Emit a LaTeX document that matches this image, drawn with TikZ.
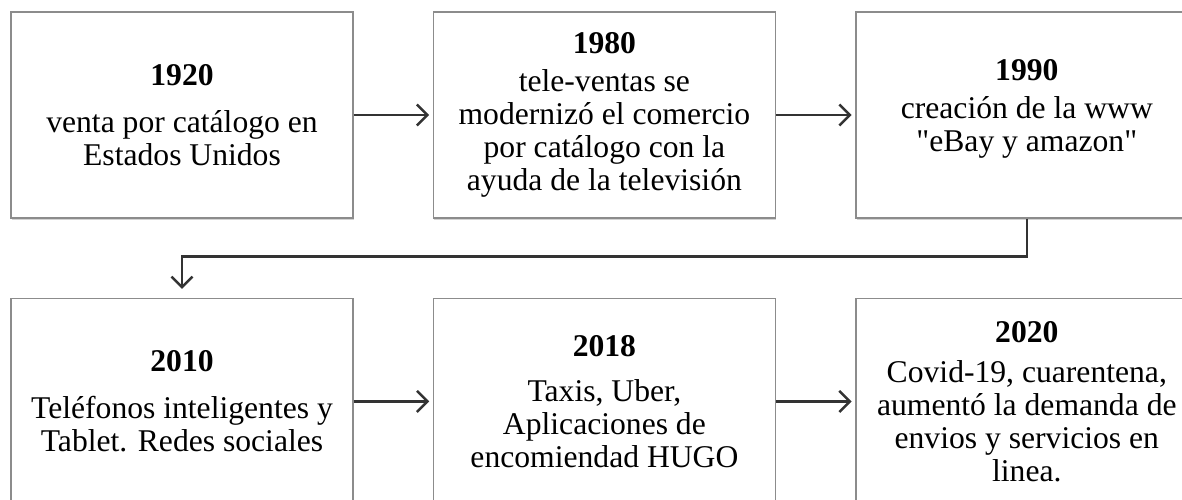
\documentclass[tikz,border=0pt]{standalone}
\usepackage{fontspec}
\setmainfont{Liberation Serif}
\usetikzlibrary{arrows.meta, positioning, shadows}
\colorlet{colorBorde}{black!45}
\colorlet{colorFlecha}{black!80}
\tikzset{hito/.style={draw=colorBorde, line width=0.8pt, fill=white, minimum width=6.84cm, minimum height=4.12cm, align=center, inner sep=2pt, font=\fontsize{18}{18.8}\selectfont, drop shadow={shadow xshift=0.4pt, shadow yshift=-1.2pt, opacity=0.35}}}

\begin{document}
\begin{tikzpicture}[>={Straight Barb[length=6pt,width=12pt]}, line width=1.4pt, node distance=1.58cm]
\clip (0,0) rectangle (23.64,-9.98);
\node[hito] (a1920) at (3.64,-2.30) {\textbf{1920}\\[8pt]venta por catálogo en\\Estados Unidos};
\node[hito, right=of a1920] (a1980) {\textbf{1980}\\[3pt]tele-ventas se\\modernizó el comercio\\por catálogo con la\\ayuda de la televisión};
\node[hito, right=of a1980] (a1990) {\textbf{1990}\\[3pt]creación de la www\\\textquotedbl eBay y amazon\textquotedbl\\[-8pt]\mbox{}};
\node[hito, below=of a1920] (a2010) {\textbf{2010}\\[8pt]Teléfonos inteligentes y\\Tablet. Redes sociales};
\node[hito, right=of a2010] (a2018) {\textbf{2018}\\[7pt]Taxis, Uber,\\Aplicaciones de\\encomiendad HUGO};
\node[hito, right=of a2018] (a2020) {\textbf{2020}\\[4pt]Covid-19, cuarentena,\\aumentó la demanda de\\envios y servicios en\\linea.};
\draw [->, colorFlecha, shorten >=2pt] (a1920) -- (a1980);
\draw [->, colorFlecha, shorten >=2pt] (a1980) -- (a1990);
\draw [->, colorFlecha, shorten >=5pt] (a1990.south) -- ++(0,-0.76) -| (a2010.north);
\draw [->, colorFlecha, shorten >=2pt] (a2010) -- (a2018);
\draw [->, colorFlecha, shorten >=2pt] (a2018) -- (a2020);
\end{tikzpicture}
\end{document}
